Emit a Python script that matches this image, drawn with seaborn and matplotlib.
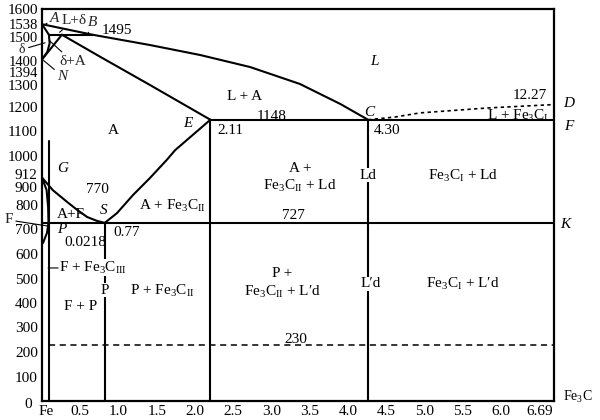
import matplotlib
matplotlib.use("Agg")
import matplotlib.pyplot as plt
import seaborn as sns
import numpy as np
from matplotlib.transforms import ScaledTranslation

sns.set_theme(style="white")
plt.rcParams['font.family'] = ['Liberation Serif', 'DejaVu Serif']
plt.rcParams['mathtext.fontset'] = 'custom'
plt.rcParams['mathtext.rm'] = 'Liberation Serif'
plt.rcParams['mathtext.it'] = 'Liberation Serif:italic'

# ---- key compositions (wt% C, as drawn) and temperatures (deg C) ----
T_A, T_HJB, T_N, T_G = 1538, 1495, 1394, 912
T_ECF, T_PSK, T_LOW = 1148, 727, 230
c_H, c_J, c_B = 0.09, 0.26, 0.66
c_P, c_S, c_E, c_C, c_max = 0.085, 0.82, 2.2, 4.26, 6.69

# ---- curves ----
liq_c = [0, 0.66, 1.41, 2.07, 2.72, 3.37, 3.90, 4.26]          # A-B-C liquidus
liq_T = [1538, 1495, 1453, 1412, 1363, 1294, 1212, 1148]
ah_c, ah_T = [0, 0.09], [1538, 1495]                              # A-H
je_c, je_T = [0.26, 0.76, 1.41, 2.2], [1495, 1405, 1290, 1148]    # J-E solidus
hn_c, hn_T = [0.09, 0.10, 0.07, 0.0], [1495, 1460, 1425, 1394]    # H-N
jn_c, jn_T = [0.26, 0.0], [1495, 1394]                            # J-N
gs_c = [0, 0.14, 0.33, 0.46, 0.59, 0.72, 0.82]                    # G-S
gs_T = [912, 861, 812, 780, 751, 735, 727]
gp_c, gp_T = [0, 0.06, 0.08, 0.085], [912, 861, 792, 727]         # G-P
pq_c, pq_T = [0.085, 0.065, 0.013], [727, 686, 645]               # P-Q
es_c = [0.82, 0.98, 1.19, 1.41, 1.63, 1.74, 1.97, 2.2]            # E-S (Acm)
es_T = [727, 767, 841, 910, 984, 1024, 1086, 1148]
cd_c = [4.26, 4.61, 4.94, 5.82, 6.69]                             # C-D (dotted)
cd_T = [1148, 1159, 1176, 1196, 1210]

# ---- axis tick values / labels ----
x_ticks = [0, 0.5, 1.0, 1.5, 2.0, 2.5, 3.0, 3.5, 4.0, 4.5, 5.0, 5.5, 6.0, 6.5]
x_labels = ["Fe", "0.5", "1.0", "1.5", "2.0", "2.5", "3.0", "3.5", "4.0",
            "4.5", "5.0", "5.5", "6.0", "6.69"]
y_ticks = [0, 100, 200, 300, 400, 500, 600, 700, 800, 900, 912, 1000, 1100,
           1200, 1300, 1394, 1400, 1500, 1538, 1600]

fig = plt.figure(figsize=(6, 4.2), dpi=100)
ax = fig.add_axes([42/600, 19/420, 512/600, 392/420])

LW = 1.5
def curve(cs, ts, **kw):
    style = dict(color="black", lw=LW, sort=False, estimator=None, ax=ax)
    style.update(kw)
    sns.lineplot(x=cs, y=ts, **style)

curve(liq_c, liq_T)
curve(ah_c, ah_T)
curve(je_c, je_T)
curve(hn_c, hn_T)
curve(jn_c, jn_T)
curve(gs_c, gs_T)
curve(gp_c, gp_T)
curve(pq_c, pq_T)
curve(es_c, es_T)
curve(cd_c, cd_T, linestyle=(0, (2, 2)), lw=1.2)
# horizontals
curve([c_H, c_B], [T_HJB, T_HJB])
curve([c_E, c_max], [T_ECF, T_ECF])
curve([0, c_max], [T_PSK, T_PSK])
curve([c_P, c_max], [T_LOW, T_LOW], linestyle=(0, (4, 3)), lw=1.1)
# verticals
curve([c_P, c_P], [T_G + 150, 0])
curve([c_S, c_S], [T_PSK, 0])
curve([c_E, c_E], [T_ECF, 0])
curve([c_C, c_C], [T_ECF, 0])

ax.set_xlim(0, c_max)
ax.set_ylim(0, 1600)
ax.set_xlabel("")
ax.set_ylabel("")
ax.set_xticks(x_ticks)
ax.set_xticklabels(x_labels)
ax.set_yticks(y_ticks)
ax.set_yticklabels([str(v) for v in y_ticks])
ax.tick_params(direction="in", length=4, width=1, labelsize=11, pad=3,
               colors="black")
for s in ax.spines.values():
    s.set_color("black")
    s.set_linewidth(1.6)

FS = 11
wb = dict(facecolor="white", edgecolor="none", pad=0.3)
def t(x, y, s, style="normal", ha="center", bbox=None, fs=FS):
    ax.text(x, y, s, ha=ha, va="center", fontsize=fs, style=style,
            color="black", bbox=bbox, clip_on=False)

FE3C2 = r"Fe$_3$C$_{\rm II}$"
FE3C1 = r"Fe$_3$C$_{\rm I}$"
FE3C3 = r"Fe$_3$C$_{\rm III}$"

t(4.35, 1384, "L", style="italic")
t(2.65, 1241, "L + A")
t(0.93, 1106, "A")
t(3.0, 1163, "1148")
t(2.46, 1106, "2.11")
t(4.51, 1106, "4.30")
t(4.27, 1178, "C", style="italic")
t(1.91, 1131, "E", style="italic")
t(6.38, 1245, "12.27")
t(6.88, 1216, "D", style="italic")
t(6.22, 1163, "L + " + FE3C1)
t(6.88, 1122, "F", style="italic")
t(4.26, 922, "Ld", bbox=wb)
t(3.37, 951, "A +")
t(3.37, 878, FE3C2 + " + Ld")
t(5.5, 918, FE3C1 + " + Ld")
t(0.27, 951, "G", style="italic")
t(0.72, 865, "770")
t(0.81, 776, "S", style="italic")
t(1.71, 796, "A + " + FE3C2)
t(3.29, 759, "727")
t(6.84, 722, "K", style="italic")
t(0.38, 763, "A+F")
t(0.26, 700, "P", style="italic")
t(0.57, 645, "0.0218")
t(1.11, 686, "0.77")
t(0.22, 543, "F + " + FE3C3, ha="left", bbox=wb)
t(0.82, 453, "P", bbox=wb)
t(1.57, 449, "P + " + FE3C2)
t(0.5, 384, "F + P")
t(3.14, 522, "P +")
t(3.14, 445, FE3C2 + " + L\u2032d")
t(4.29, 478, "L\u2032d", bbox=wb)
t(5.5, 478, FE3C1 + " + L\u2032d")
t(3.31, 249, "230")
t(7.0, 16, "Fe$_3$C", fs=10)
t(0.98, 1512, "1495")

# labels with leader lines
lead = dict(arrowstyle="-", color="black", lw=0.8, shrinkA=0, shrinkB=0)
def ann(s, xy, xyt, style="normal", ha="center", fs=FS):
    ax.annotate(s, xy=xy, xytext=xyt, fontsize=fs, style=style, ha=ha,
                va="center", arrowprops=lead, annotation_clip=False)

ann("A", (0.0, 1530), (0.17, 1560), style="italic")
ann("L+\u03b4", (0.23, 1505), (0.42, 1555))
ann("B", (0.60, 1497), (0.66, 1545), style="italic")
ann("\u03b4", (0.04, 1462), (-0.26, 1435), fs=10)
ann("\u03b4+A", (0.10, 1470), (0.4, 1385))
ann("N", (0.02, 1390), (0.27, 1325), style="italic")
ann("F", (0.08, 714), (-0.44, 739))
ann("", (0.08, 543), (0.21, 543))

# nudge crowded tick labels (pixels; dx positive = right, dy positive = down)
y_offsets = {1500: (0, 4), 1400: (0, 3.5), 1394: (0, 12.5), 912: (0, -4),
             900: (0, 6), 1300: (0, 3), 0: (-6, 2)}
small_labels = {1538, 1500, 1400, 1394}
for val, tick in zip(y_ticks, ax.yaxis.get_major_ticks()):
    lab = tick.label1
    if val in small_labels:
        lab.set_fontsize(10.5)
    if val in y_offsets:
        dx, dy = y_offsets[val]
        lab.set_transform(lab.get_transform() +
                          ScaledTranslation(dx / 100, -dy / 100, fig.dpi_scale_trans))
fe_tick = ax.xaxis.get_major_ticks()[0]
fe_tick.label1.set_transform(fe_tick.label1.get_transform() +
                             ScaledTranslation(4 / 100, 0, fig.dpi_scale_trans))

fig.savefig("out.png", dpi=100)
